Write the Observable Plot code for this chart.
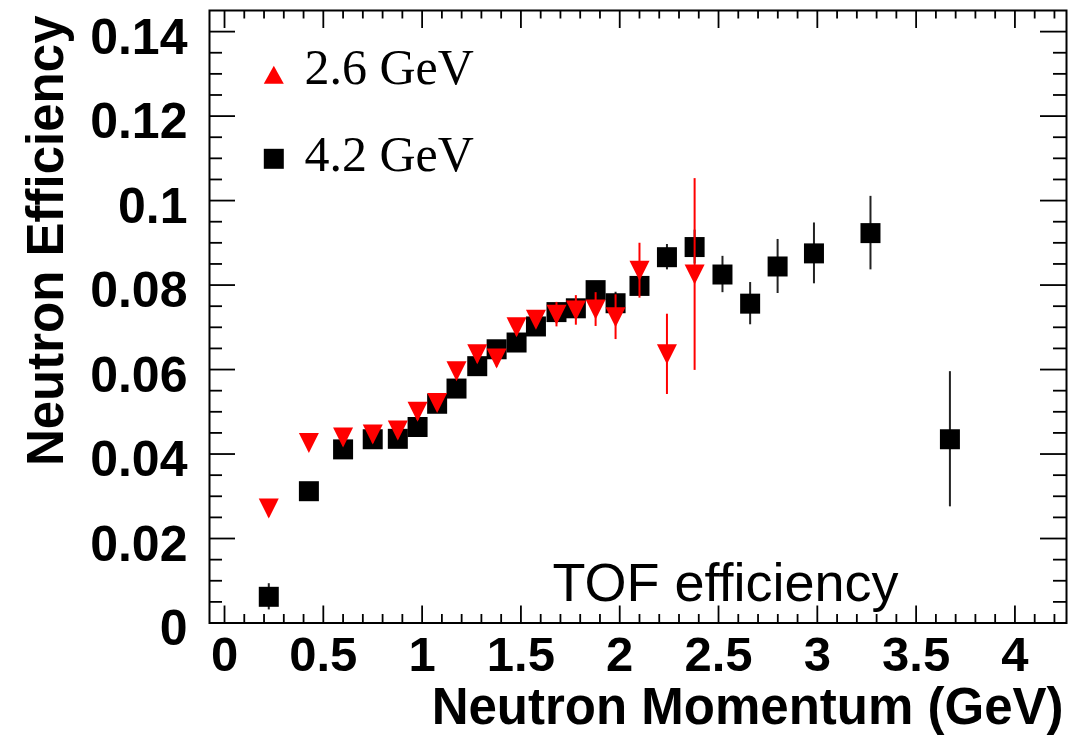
<!DOCTYPE html>
<html>
<head>
<meta charset="utf-8">
<script src="https://cdn.jsdelivr.net/npm/d3@7"></script>
<script src="https://cdn.jsdelivr.net/npm/@observablehq/plot@0.6"></script>
<style>
  html, body { margin: 0; padding: 0; background: #fff; }
  #chart svg { display: block; }
</style>
</head>
<body>
<div id="chart"></div>
<script>
// ---- data ----
const series42Label = "4.2 GeV";
const x42 = [0.224, 0.427, 0.600, 0.750, 0.877, 0.977, 1.076, 1.174, 1.279, 1.377, 1.478, 1.576, 1.680, 1.778, 1.878, 1.979, 2.100, 2.239, 2.379, 2.520, 2.660, 2.799, 2.983, 3.269, 3.671];
const y42 = [0.0062, 0.0312, 0.0411, 0.0435, 0.0436, 0.0464, 0.0519, 0.0555, 0.0608, 0.0648, 0.0664, 0.0702, 0.0736, 0.0745, 0.0788, 0.0757, 0.0798, 0.0866, 0.0890, 0.0825, 0.0756, 0.0844, 0.0875, 0.0923, 0.0435];
const e42 = [0.0031, 0.0020, 0.0020, 0.0020, 0.0020, 0.0020, 0.0020, 0.0020, 0.0020, 0.0020, 0.0020, 0.0020, 0.0020, 0.0020, 0.0020, 0.0026, 0.0020, 0.0030, 0.0040, 0.0043, 0.0050, 0.0064, 0.0072, 0.0087, 0.0160];

const series26Label = "2.6 GeV";
const x26 = [0.224, 0.427, 0.600, 0.750, 0.877, 0.977, 1.076, 1.174, 1.279, 1.377, 1.478, 1.576, 1.680, 1.778, 1.878, 1.979, 2.100, 2.239, 2.379];
const y26 = [0.0271, 0.0426, 0.0439, 0.0446, 0.0456, 0.0500, 0.0521, 0.0596, 0.0636, 0.0626, 0.0700, 0.0718, 0.0730, 0.0740, 0.0742, 0.0724, 0.0834, 0.0636, 0.0825];
const e26 = [0.0020, 0.0020, 0.0020, 0.0020, 0.0020, 0.0020, 0.0020, 0.0020, 0.0020, 0.0020, 0.0020, 0.0020, 0.0029, 0.0035, 0.0040, 0.0053, 0.0065, 0.0095, 0.0227];

const xMajorTicks = [0, 0.5, 1, 1.5, 2, 2.5, 3, 3.5, 4];
const xTickLabels = ["0", "0.5", "1", "1.5", "2", "2.5", "3", "3.5", "4"];
const yMajorTicks = [0, 0.02, 0.04, 0.06, 0.08, 0.1, 0.12, 0.14];
const yTickLabels = ["0", "0.02", "0.04", "0.06", "0.08", "0.1", "0.12", "0.14"];
const xMinorTicks = d3.range(0, 43).map(i => +(i * 0.1).toFixed(2)).filter(v => Math.abs(v * 2 - Math.round(v * 2)) > 1e-6);
const yMinorTicks = d3.range(0, 29).map(i => +(i * 0.005).toFixed(4)).filter(v => Math.abs(v / 0.02 - Math.round(v / 0.02)) > 1e-6);

const xTitle = "Neutron Momentum (GeV)";
const yTitle = "Neutron Efficiency";
const note = "TOF efficiency";

// ---- layout ----
const W = 1083, H = 739;
const mL = 209, mR = 17, mT = 10, mB = 116.5;
const fw = W - mL - mR, fh = H - mT - mB;
const sans = "'Liberation Sans', Arial, Helvetica, sans-serif";
const serif = "'Liberation Serif', 'Times New Roman', Times, serif";

const d42 = x42.map((x, i) => ({x, y: y42[i], e: e42[i]}));
const d26 = x26.map((x, i) => ({x, y: y26[i], e: e26[i]}));

// ROOT-like markers (bounding box centred on the point)
const squareSym = {draw(ctx, size) { const r = Math.sqrt(size / Math.PI); ctx.rect(-r, -r, 2 * r, 2 * r); }};
const triDownSym = {draw(ctx, size) { const r = Math.sqrt(size / Math.PI); ctx.moveTo(-r, -r); ctx.lineTo(r, -r); ctx.lineTo(0, r); ctx.closePath(); }};
const triUpSym = {draw(ctx, size) { const r = Math.sqrt(size / Math.PI); ctx.moveTo(0, -0.9 * r); ctx.lineTo(r, 0.9 * r); ctx.lineTo(-r, 0.9 * r); ctx.closePath(); }};

const tickStroke = {stroke: "black", strokeWidth: 1.8};

const chart = Plot.plot({
  width: W, height: H,
  marginLeft: mL, marginRight: mR, marginTop: mT, marginBottom: mB,
  style: {fontFamily: sans, background: "white", color: "black", overflow: "visible"},
  x: {domain: [-0.076, 4.261], axis: null},
  y: {domain: [0, 0.145], axis: null},
  marks: [
    // tick marks on all four sides, pointing inward
    Plot.tickX(xMajorTicks, {x: d => d, insetTop: fh - 17, ...tickStroke}),
    Plot.tickX(xMinorTicks, {x: d => d, insetTop: fh - 8.5, ...tickStroke}),
    Plot.tickX(xMajorTicks, {x: d => d, insetBottom: fh - 18, ...tickStroke}),
    Plot.tickX(xMinorTicks, {x: d => d, insetBottom: fh - 8.5, ...tickStroke}),
    Plot.tickY(yMajorTicks, {y: d => d, insetRight: fw - 26, ...tickStroke}),
    Plot.tickY(yMinorTicks, {y: d => d, insetRight: fw - 13, ...tickStroke}),
    Plot.tickY(yMajorTicks, {y: d => d, insetLeft: fw - 26, ...tickStroke}),
    Plot.tickY(yMinorTicks, {y: d => d, insetLeft: fw - 13, ...tickStroke}),
    Plot.frame({stroke: "black", strokeWidth: 2}),

    // tick labels
    Plot.axisX({ticks: xMajorTicks, tickSize: 0, tickPadding: 13.5, fontSize: 49, fontWeight: "bold",
      tickFormat: d => xTickLabels[xMajorTicks.indexOf(d)], label: null}),
    Plot.axisY({ticks: yMajorTicks, tickSize: 0, tickPadding: 22, fontSize: 50, fontWeight: "bold", dy: 6,
      tickFormat: d => yTickLabels[yMajorTicks.indexOf(d)], label: null}),

    // axis titles
    Plot.text([xTitle], {text: d => d, frameAnchor: "bottom-right", textAnchor: "end", lineAnchor: "bottom",
      dx: -3, dy: 100.5, fontSize: 51, fontWeight: "bold", fill: "black"}),
    Plot.text([yTitle], {text: d => d, frameAnchor: "top-left", textAnchor: "end", lineAnchor: "bottom", rotate: -90,
      dx: -147, dy: 5, fontSize: 51, fontWeight: "bold", fill: "black"}),

    // 4.2 GeV : black squares
    Plot.ruleX(d42, {x: "x", y1: d => d.y - d.e, y2: d => d.y + d.e, stroke: "#222", strokeWidth: 2}),
    Plot.dot(d42, {x: "x", y: "y", symbol: squareSym, r: 10, fill: "black", stroke: "none"}),

    // 2.6 GeV : red down triangles
    Plot.ruleX(d26, {x: "x", y1: d => d.y - d.e, y2: d => d.y + d.e, stroke: "#ff0000", strokeWidth: 2}),
    Plot.dot(d26, {x: "x", y: "y", symbol: triDownSym, r: 10, fill: "#ff0000", stroke: "none"}),

    // legend
    Plot.dot([series26Label], {frameAnchor: "top-left", dx: 64.3, dy: 64.2, symbol: triUpSym, r: 10, fill: "#ff0000", stroke: "none"}),
    Plot.dot([series42Label], {frameAnchor: "top-left", dx: 64.3, dy: 148.3, symbol: squareSym, r: 10, fill: "black", stroke: "none"}),
    Plot.text([series26Label], {text: d => d, frameAnchor: "top-left", textAnchor: "start", lineAnchor: "bottom",
      dx: 95, dy: 73.3, fontSize: 50, fontFamily: serif, fontWeight: "normal", fill: "black"}),
    Plot.text([series42Label], {text: d => d, frameAnchor: "top-left", textAnchor: "start", lineAnchor: "bottom",
      dx: 95, dy: 160, fontSize: 50, fontFamily: serif, fontWeight: "normal", fill: "black"}),

    // annotation
    Plot.text([note], {text: d => d, frameAnchor: "bottom-left", textAnchor: "start", lineAnchor: "bottom",
      dx: 343, dy: -22.5, fontSize: 54, fontWeight: "normal", fill: "black"})
  ]
});
document.getElementById("chart").appendChild(chart);
</script>
</body>
</html>
